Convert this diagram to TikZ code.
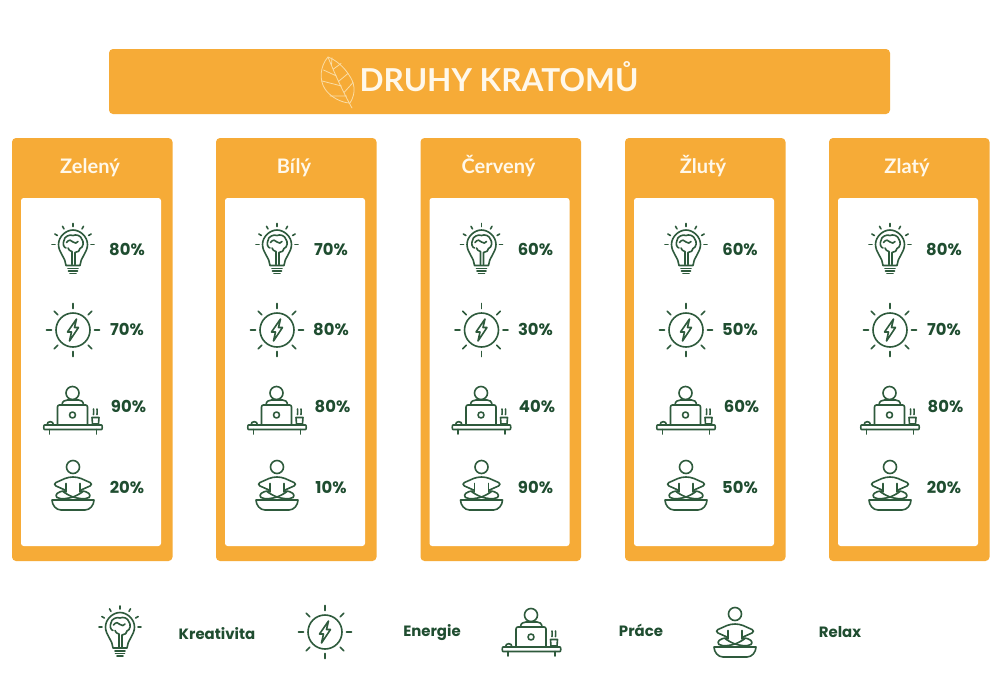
\documentclass[tikz,border=0pt]{standalone}
\usepackage{fontspec}
\setmainfont{Lato}
\newfontfamily\numfont{Poppins}
\definecolor{orangebg}{HTML}{F6AB37}
\definecolor{darkgreen}{HTML}{1F4D30}
\definecolor{iconline}{HTML}{2E5A3C}
\definecolor{leafline}{HTML}{FADDA6}
\definecolor{titlecream}{HTML}{FFF8EA}
\tikzset{
  iconstroke/.style={draw=iconline,line width=1.2pt,line cap=round,line join=round},
  panel/.style={fill=orangebg,rounded corners=3pt},
  innerpanel/.style={fill=white,rounded corners=2pt},
  headlabel/.style={text=titlecream,font=\fontsize{15}{18}\selectfont\bfseries,inner sep=0pt,anchor=base},
  pct/.style={text=darkgreen,font=\numfont\fontsize{12.3}{14}\selectfont\bfseries,inner sep=0pt,anchor=base},
  legendlabel/.style={text=darkgreen,font=\numfont\fontsize{11.2}{13}\selectfont\bfseries,inner sep=0pt,anchor=base},
  bulbicon/.pic={
    \draw[iconstroke] (-7,21) .. controls (-7,14) and (-14.5,8) .. (-14.5,0)
       .. controls (-14.5,-8) and (-7,-14.5) .. (0,-14.5)
       .. controls (7,-14.5) and (14.5,-8) .. (14.5,0)
       .. controls (14.5,8) and (7,14) .. (7,21) -- cycle;
    \draw[iconstroke] (-5,24) -- (5,24) (-4.5,26.5) -- (4.5,26.5) (-3,29) -- (3,29);
    \foreach \a in {0,30,60,90,120,150,180}{
      \draw[iconstroke] ({18*cos(\a)},{-18*sin(\a)}) -- ({21*cos(\a)},{-21*sin(\a)});
    }
    \draw[iconstroke] (-1,20) -- (-1,7) .. controls (-3,6.5) and (-4.5,5.5) .. (-5,3.5)
       (2,20) -- (2,8) .. controls (5,8) and (7,6) .. (7,4)
       .. controls (10.5,3) and (11,-3) .. (9,-5)
       .. controls (8,-9) and (3,-10.5) .. (0,-9)
       .. controls (-3,-10.5) and (-9,-8) .. (-9,-4)
       .. controls (-10.5,-1) and (-9.5,3) .. (-7,3.5);
    \draw[iconstroke] (-6.5,-2) .. controls (-4.5,-5) and (-1,-5) .. (0,-2.5)
       (0,-2.5) .. controls (2,-1) and (4,-1) .. (5,-3);
  },
  energyicon/.pic={
    \draw[iconstroke] (0,0) circle (17);
    \foreach \a in {0,45,...,315}{
      \draw[iconstroke] ({21.5*cos(\a)},{21.5*sin(\a)}) -- ({26.5*cos(\a)},{26.5*sin(\a)});
    }
    \draw[iconstroke] (3.5,-11) -- (-5.5,2) -- (-1.5,2) -- (-3.5,11) -- (5.5,-2.5) -- (1.5,-2.5) -- cycle;
  },
  workicon/.pic={
    \draw[iconstroke] (0,0) circle (6.5);
    \draw[iconstroke] (-10.5,12) .. controls (-10.5,8) and (-7,7) .. (-5,7) -- (6,7) .. controls (8,7) and (11,8) .. (11,12);
    \draw[iconstroke] (-15,31) -- (-15,14) .. controls (-15,12.5) and (-14,12) .. (-13,12) -- (13,12) .. controls (14,12) and (15,12.5) .. (15,14) -- (15,31);
    \draw[iconstroke] (0,22) circle (3);
    \draw[iconstroke] (-28,32) -- (29,32) .. controls (30,32) and (30,36.5) .. (29,36.5) -- (-28,36.5) .. controls (-29,36.5) and (-29,32) .. (-28,32) -- cycle;
    \draw[iconstroke] (-23,36.5) -- (-23,41) (24,36.5) -- (24,41);
    \draw[iconstroke] (-25.5,32) .. controls (-25.5,27.5) and (-19,27.5) .. (-19,32);
    \draw[iconstroke] (19.5,24.5) -- (26.5,24.5) -- (26,31) -- (20,31) -- cycle;
    \draw[iconstroke] (21,16) .. controls (19.5,18) and (23,19) .. (21,21.5)
       (24.5,16) .. controls (23,18) and (26.5,19) .. (24.5,21.5);
  },
  relaxicon/.pic={
    \draw[iconstroke] (0,0) circle (6.5);
    \draw[iconstroke] (-8,23) -- (-17,19) .. controls (-19,18) and (-19,16.5) .. (-17,15.5) -- (-8,11.5)
       .. controls (-3,9.5) and (3,9.5) .. (8,11.5) -- (17,15.5) .. controls (19,16.5) and (19,18) .. (17,19) -- (8,23);
    \draw[iconstroke] (-7,16.5) -- (-7,25) (7,16.5) -- (7,25);
    \draw[iconstroke] (-8,24) .. controls (-15,24) and (-19,28) .. (-16,30.5) .. controls (-12,33) and (-3,31) .. (0,30) .. controls (5,28) and (8,26) .. (10,24.5);
    \draw[iconstroke] (8,24) .. controls (15,24) and (19,28) .. (16,30.5) .. controls (12,33) and (3,31) .. (0,30) .. controls (-5,28) and (-8,26) .. (-10,24.5);
    \draw[iconstroke] (-21,33) -- (21,33) .. controls (21,38) and (17,43) .. (12,43) -- (-12,43) .. controls (-17,43) and (-21,38) .. (-21,33) -- cycle;
  },
  leaficon/.pic={
    \draw[draw=leafline,line width=0.6pt,line join=round,line cap=round]
      (328,57) .. controls (320,66) and (319,80) .. (325,89)
      .. controls (331,98) and (343,103) .. (350,103)
      .. controls (357,92) and (354,82) .. (349,75)
      .. controls (344,67) and (336,60) .. (328,57) -- cycle;
    \draw[draw=leafline,line width=0.6pt,line cap=round]
      (328,57) .. controls (334,72) and (342,90) .. (352,108)
      (331.5,65) -- (332,57.8) (333.5,69) -- (341,63.5) (336.5,76) -- (323.5,70) (339,81) -- (348,73.5)
      (341.5,86) -- (322,81) (344.5,92) -- (353,82.5) (346.5,96) -- (330,96);
  }
}
\begin{document}
\begin{tikzpicture}[x=0.75pt,y=-0.75pt]
\useasboundingbox (0,0) rectangle (1000,700);
\fill[white] (0,0) rectangle (1000,700);
\fill[panel] (109,49) rectangle (890,114);
\pic at (0,0) {leaficon};
\node[text=titlecream,font=\fontsize{23.7}{26}\selectfont\bfseries,inner sep=0pt,anchor=base] (title) at (499,91) {DRUHY KRATOMŮ};
\foreach \px/\name/\lab/\a/\b/\c/\d in {
   12/zeleny/Zelený/80/70/90/20,
   216/bily/Bílý/70/80/80/10,
   420.5/cerveny/Červený/60/30/40/90,
   625/zluty/Žlutý/60/50/60/50,
   829/zlaty/Zlatý/80/70/80/20}{
  \fill[panel] (\px,138) rectangle ++(160.5,423);
  \fill[innerpanel] ({\px+9},198) rectangle ++(140,348);
  \node[headlabel] (\name-head) at ({\px+78},173) {\lab};
  \pic at ({\px+61},244.5) {bulbicon};
  \pic at ({\px+61},330) {energyicon};
  \pic at ({\px+60.5},393) {workicon};
  \pic at ({\px+61},467) {relaxicon};
  \node[pct] (\name-a) at ({\px+115},255) {\a\%};
  \node[pct] (\name-b) at ({\px+115},335) {\b\%};
  \node[pct] (\name-c) at ({\px+116.5},412) {\c\%};
  \node[pct] (\name-d) at ({\px+115},493) {\d\%};
}
\pic at (120,627) {bulbicon};
\pic at (325,632) {energyicon};
\pic at (531,615) {workicon};
\pic at (735,614) {relaxicon};
\node[legendlabel] (kreativita) at (217,639) {Kreativita};
\node[legendlabel] (energie) at (432,636) {Energie};
\node[legendlabel] (prace) at (641,636) {Práce};
\node[legendlabel] (relax) at (840,637) {Relax};
\end{tikzpicture}
\end{document}
